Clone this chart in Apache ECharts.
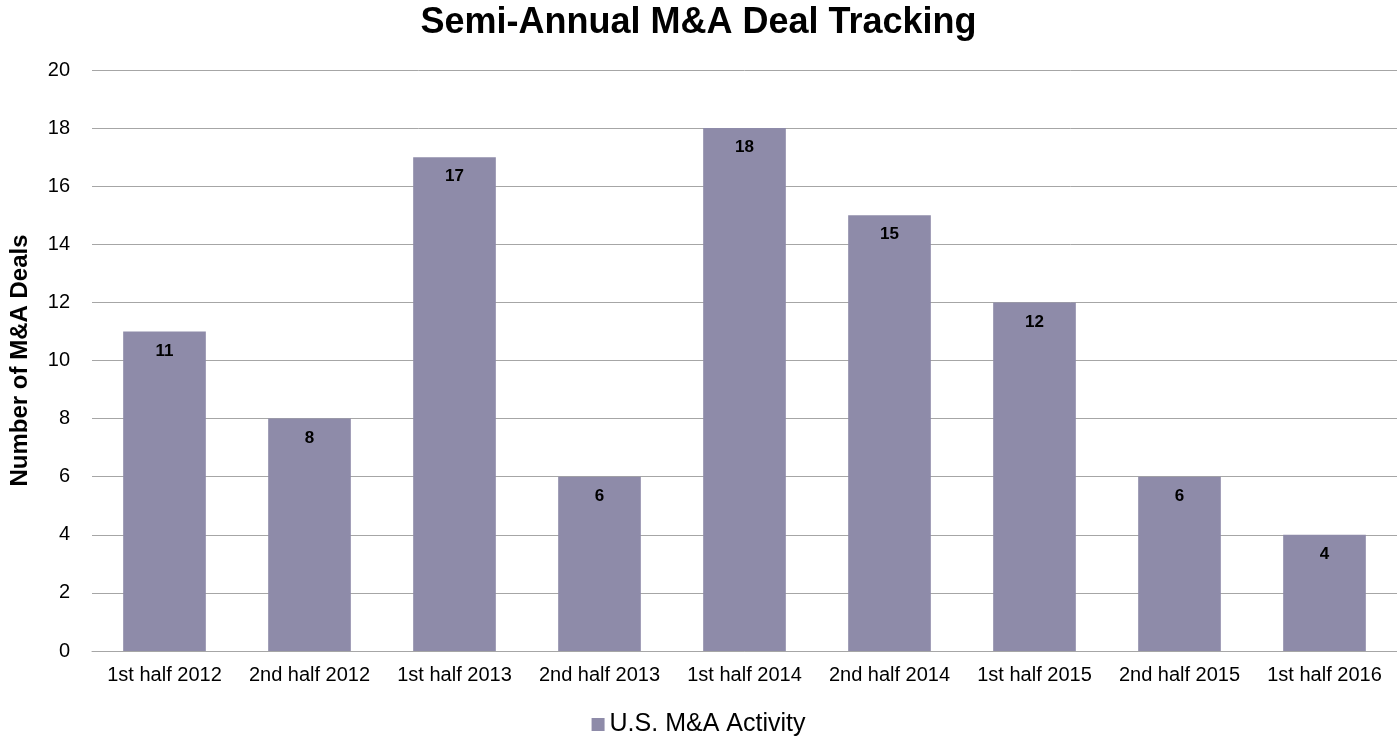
<!DOCTYPE html>
<html><head><meta charset="utf-8">
<script src="https://cdn.jsdelivr.net/npm/echarts@6/dist/echarts.min.js"></script>
<style>html,body{margin:0;padding:0;background:#fff}#c{width:1397px;height:744px}</style>
</head><body><div id="c"></div>
<script>
const categories=['1st half 2012','2nd half 2012','1st half 2013','2nd half 2013','1st half 2014','2nd half 2014','1st half 2015','2nd half 2015','1st half 2016'];
const deals=[11,8,17,6,18,15,12,6,4];
const seriesName='U.S. M&A Activity';
const chart=echarts.init(document.getElementById('c'));
chart.setOption({
  animation:false,
  textStyle:{fontFamily:'Liberation Sans, Arial, sans-serif'},
  title:{text:'Semi-Annual M&A Deal Tracking',left:'center',top:0,textStyle:{fontSize:36,fontWeight:'bold',color:'#000'}},
  legend:{bottom:2,left:'center',itemWidth:13,itemHeight:13,icon:'rect',textStyle:{fontSize:25,color:'#000'},data:[seriesName]},
  grid:{left:87,right:0,top:70,bottom:93},
  xAxis:{type:'category',data:categories,axisTick:{show:false},axisLine:{lineStyle:{color:'#a6a6a6'}},axisLabel:{fontSize:20,color:'#000',margin:14,interval:0}},
  yAxis:{type:'value',min:0,max:20,interval:2,name:'Number of M&A Deals',nameLocation:'middle',nameGap:60,nameTextStyle:{fontSize:24,fontWeight:'bold',color:'#000'},
    axisLabel:{fontSize:20,color:'#000',margin:22},splitLine:{lineStyle:{color:'#a6a6a6'}}},
  series:[{name:seriesName,type:'bar',data:deals,barWidth:'57%',itemStyle:{color:'#8e8ba9'},
    label:{show:true,position:'insideTop',offset:[0,6],fontSize:17,fontWeight:'bold',color:'#000'}}]
});
</script></body></html>
